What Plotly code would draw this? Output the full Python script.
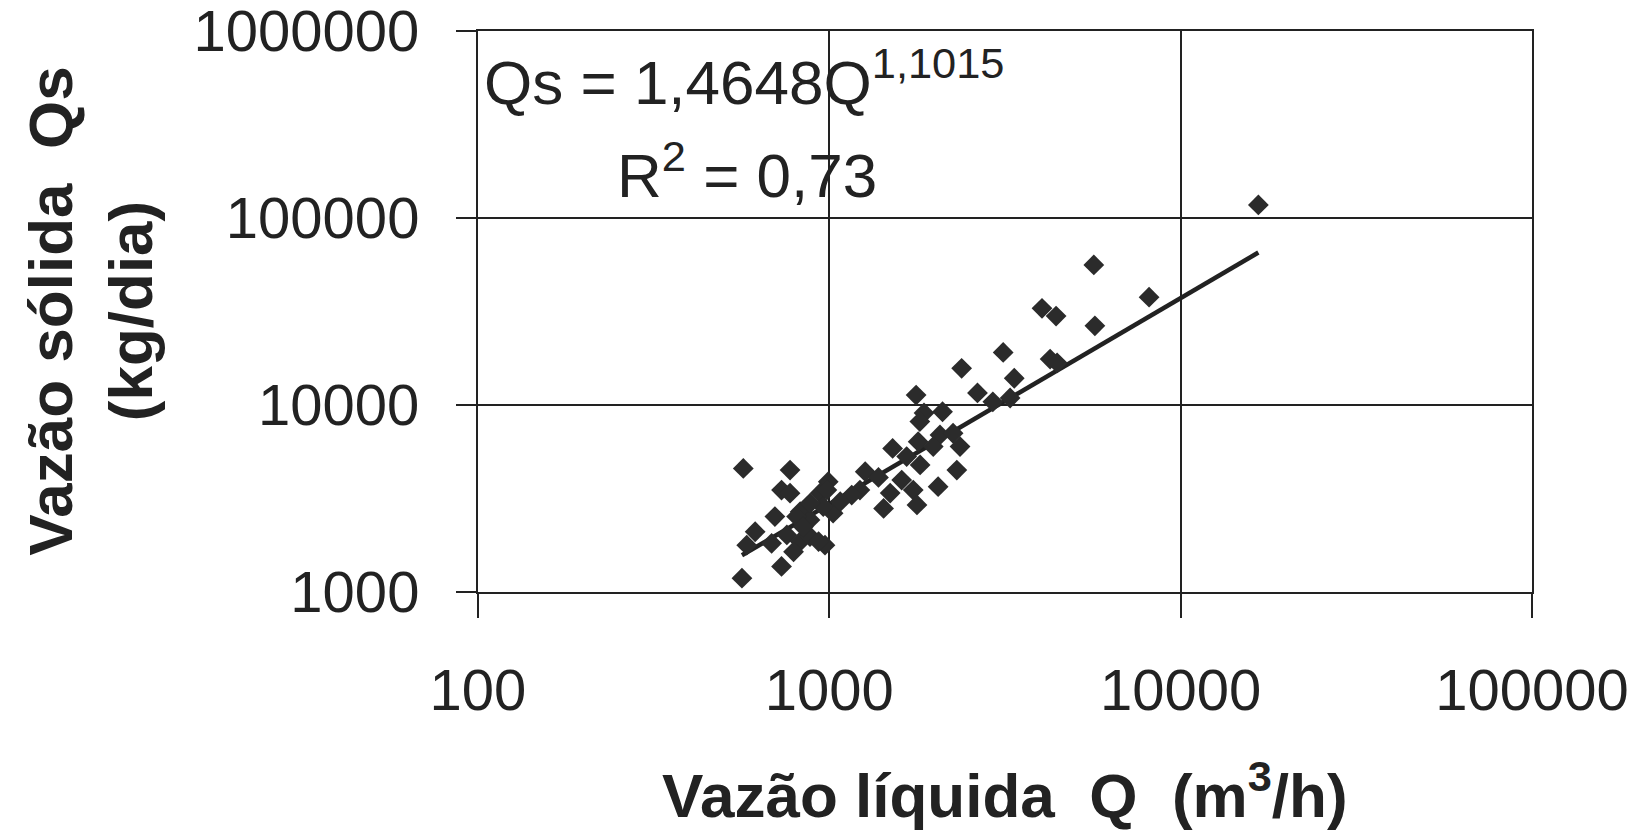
import numpy as np
import plotly.graph_objects as go

vazao_liquida = [16640, 5660, 8130, 4030, 4420, 5700, 3125, 4250, 4450, 2380,
                 3360, 3270, 2640, 2920, 1766, 1860, 2100, 1810, 1790, 2065,
                 2250, 2355, 1976, 1514, 1660, 1813, 1607, 1733, 2040, 2306,
                 1776, 1427, 1265, 1222, 1158, 993, 941, 1025, 961, 826,
                 881, 773, 569, 731, 773, 700, 807, 615, 582, 685,
                 757, 826, 881, 791, 972, 731, 564, 932, 843, 1074,
                 984, 881, 1380, 1490]
vazao_solida = [117500, 56100, 37700, 32900, 29900, 26500, 19100, 17600, 16800, 15700,
                13900, 10900, 11600, 10400, 11300, 9060, 9200, 8150, 6370, 6920,
                7060, 5990, 5990, 5860, 5300, 4780, 3970, 3510, 3660, 4490,
                2920, 2800, 4400, 3510, 3300, 3890, 3375, 2640, 2860, 2690,
                2430, 4490, 4580, 3510, 3375, 2530, 2530, 2100, 1780, 1820,
                2020, 1860, 1980, 1640, 1780, 1370, 1185, 1860, 2230, 3040,
                3510, 2980, 4100, 3380]

# Power-law fit shown on the chart
coef_a = 1.4648
coef_b = 1.1015

x_ticks = [100, 1000, 10000, 100000]
x_ticktext = ["100", "1000", "10000", "100000"]
y_ticks = [1000, 10000, 100000, 1000000]
y_ticktext = ["1000", "10000", "100000", "1000000"]

q_fit = np.logspace(np.log10(min(vazao_liquida)), np.log10(max(vazao_liquida)), 50)
qs_fit = coef_a * q_fit ** coef_b

ink = "#222222"
font_family = "Liberation Sans, Arial, sans-serif"

fig = go.Figure()
fig.add_trace(go.Scatter(
    x=q_fit, y=qs_fit, mode="lines",
    line=dict(color=ink, width=4.5), showlegend=False, hoverinfo="skip"))
fig.add_trace(go.Scatter(
    x=vazao_liquida, y=vazao_solida, mode="markers",
    marker=dict(symbol="diamond", size=16, color="#2b2b2b", line=dict(width=0)),
    showlegend=False))

# page body has an 8px default margin, so the figure is 8px smaller
fig.update_layout(
    width=1631, height=824,
    margin=dict(l=470, r=107, t=23, b=240, autoexpand=False),
    paper_bgcolor="white", plot_bgcolor="white",
    font=dict(family=font_family, color=ink),
)
fig.update_xaxes(
    type="log", range=[2, 5], automargin=False,
    tickvals=x_ticks, ticktext=x_ticktext,
    tickfont=dict(size=58, color=ink, family=font_family),
    showgrid=True, gridcolor=ink, gridwidth=2,
    showline=True, linecolor=ink, linewidth=2, mirror=True,
    ticks="outside", ticklen=24, tickcolor=ink, tickwidth=1.5,
    ticklabelstandoff=22, ticklabeloverflow="allow", zeroline=False,
)
fig.update_yaxes(
    type="log", range=[3, 6], automargin=False,
    tickvals=y_ticks, ticktext=y_ticktext,
    tickfont=dict(size=58, color=ink, family=font_family),
    showgrid=True, gridcolor=ink, gridwidth=2,
    showline=True, linecolor=ink, linewidth=2, mirror=True,
    ticks="outside", ticklen=20, tickcolor=ink, tickwidth=1.5,
    ticklabelstandoff=25, ticklabeloverflow="allow", zeroline=False,
)

fig.add_annotation(
    text="<b>Vazão sólida\u00a0\u00a0Qs<br>(kg/dia)</b>",
    xref="paper", yref="paper", x=-0.368, y=0.5,
    xanchor="center", yanchor="middle", textangle=-90, showarrow=False,
    font=dict(size=62, color=ink, family=font_family))
fig.add_annotation(
    text="<b>Vazão líquida\u00a0\u00a0Q\u00a0\u00a0(m<sup>3</sup>/h)</b>",
    xref="paper", yref="paper", x=0.5, y=-0.355,
    xanchor="center", yanchor="middle", showarrow=False,
    font=dict(size=62, color=ink, family=font_family))
fig.add_annotation(
    text="Qs = 1,4648Q<sup>1,1015</sup>",
    xref="paper", yref="paper", x=0.004, y=0.916,
    xanchor="left", yanchor="middle", showarrow=False,
    font=dict(size=62, color=ink, family=font_family))
fig.add_annotation(
    text="R<sup>2</sup> = 0,73",
    xref="paper", yref="paper", x=0.13, y=0.75,
    xanchor="left", yanchor="middle", showarrow=False,
    font=dict(size=62, color=ink, family=font_family))

fig.write_html("out.html")
